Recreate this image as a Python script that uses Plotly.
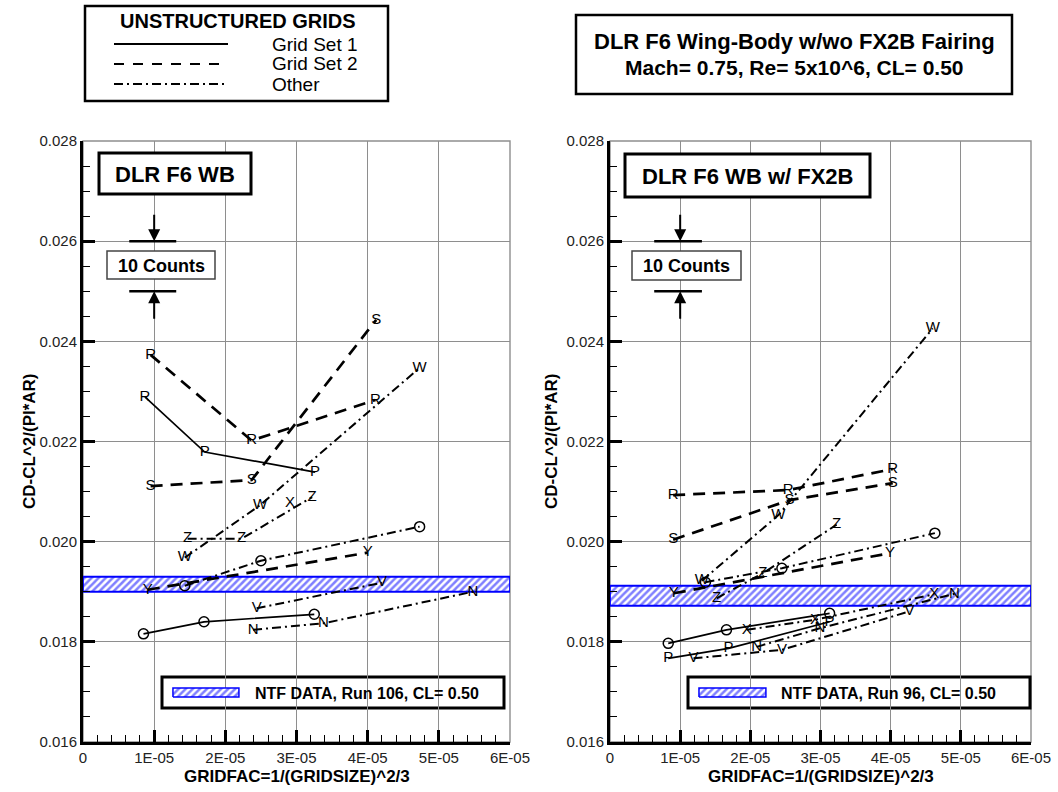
import plotly.graph_objects as go

# ------------------------------------------------------------------ data
X_TICKS = [0, 1e-5, 2e-5, 3e-5, 4e-5, 5e-5, 6e-5]
X_TICK_TEXT = ["0", "1E-05", "2E-05", "3E-05", "4E-05", "5E-05", "6E-05"]
Y_TICKS = [0.016, 0.018, 0.020, 0.022, 0.024, 0.026, 0.028]
Y_TICK_TEXT = ["0.016", "0.018", "0.020", "0.022", "0.024", "0.026", "0.028"]

# NTF experimental band (low, high)
NTF_WB = [0.01900, 0.01930]
NTF_FX = [0.01872, 0.01912]

# 10-count reference bars
COUNT_BARS = [0.025, 0.026]

# ---- Left panel: DLR F6 WB ----
WB_G1_A_X = [0.87e-5, 1.71e-5, 3.26e-5]
WB_G1_A_Y = [0.02289, 0.02179, 0.02139]
WB_G1_A_S = ["R", "P", "P"]

WB_G1_O_X = [0.85e-5, 1.70e-5, 3.25e-5]
WB_G1_O_Y = [0.01816, 0.01840, 0.01855]

WB_G2_R_X = [0.95e-5, 2.37e-5, 4.11e-5]
WB_G2_R_Y = [0.02373, 0.02202, 0.02283]

WB_G2_S_X = [0.95e-5, 2.37e-5, 4.12e-5]
WB_G2_S_Y = [0.02111, 0.02123, 0.02443]

WB_G2_Y_X = [0.91e-5, 4.00e-5]
WB_G2_Y_Y = [0.01904, 0.01978]

WB_OT_O_X = [1.43e-5, 2.50e-5, 4.73e-5]
WB_OT_O_Y = [0.01912, 0.01962, 0.02030]

WB_OT_W_X = [1.43e-5, 2.49e-5, 4.73e-5]
WB_OT_W_Y = [0.01968, 0.02073, 0.02347]

WB_OT_Z_X = [1.47e-5, 2.23e-5, 3.22e-5]
WB_OT_Z_Y = [0.02006, 0.02006, 0.02089]

WB_OT_X_X = [2.91e-5]
WB_OT_X_Y = [0.02077]

WB_OT_V_X = [2.44e-5, 4.20e-5]
WB_OT_V_Y = [0.01867, 0.01918]

WB_OT_N_X = [2.39e-5, 3.38e-5, 5.48e-5]
WB_OT_N_Y = [0.01824, 0.01837, 0.01900]

# ---- Right panel: DLR F6 WB w/ FX2B ----
FX_G1_O_X = [0.83e-5, 1.66e-5, 3.13e-5]
FX_G1_O_Y = [0.01797, 0.01824, 0.01857]

FX_G1_P_X = [0.83e-5, 1.69e-5, 3.13e-5]
FX_G1_P_Y = [0.01767, 0.01787, 0.01840]

FX_G2_R_X = [0.90e-5, 2.54e-5, 4.03e-5]
FX_G2_R_Y = [0.02093, 0.02103, 0.02145]

FX_G2_S_X = [0.90e-5, 2.56e-5, 4.03e-5]
FX_G2_S_Y = [0.02004, 0.02083, 0.02117]

FX_G2_Y_X = [0.91e-5, 3.99e-5]
FX_G2_Y_Y = [0.01897, 0.01977]

FX_OT_W_X = [1.31e-5, 2.40e-5, 4.60e-5]
FX_OT_W_Y = [0.01922, 0.02053, 0.02426]

FX_OT_Z_X = [1.52e-5, 2.18e-5, 3.23e-5]
FX_OT_Z_Y = [0.01887, 0.01937, 0.02034]

FX_OT_O_X = [1.36e-5, 2.45e-5, 4.63e-5]
FX_OT_O_Y = [0.01919, 0.01947, 0.02017]

FX_OT_X_X = [1.95e-5, 2.92e-5, 4.62e-5]
FX_OT_X_Y = [0.01824, 0.01844, 0.01895]

FX_OT_V_X = [1.19e-5, 2.45e-5, 4.27e-5]
FX_OT_V_Y = [0.01767, 0.01784, 0.01861]

FX_OT_N_X = [2.09e-5, 2.99e-5, 4.91e-5]
FX_OT_N_Y = [0.01790, 0.01827, 0.01896]

# ------------------------------------------------------------------ style
FONT = "Liberation Sans, Arial, Helvetica, sans-serif"
STYLES = {
    "g1": dict(color="black", width=1.7, dash="solid"),
    "g2": dict(color="black", width=2.7, dash="12px,8px"),
    "ot": dict(color="black", width=2.0, dash="9px,4px,2px,4px"),
}
HATCH = dict(shape="/", fgcolor="#0000ff", bgcolor="white", size=5,
             solidity=0.5)

W, H = 1058, 792


def px(x):
    return x / W


def py(y):
    return 1 - y / H


fig = go.Figure()

# hatched NTF bands (drawn first, under the CFD lines)
for band, xa, ya in [(NTF_WB, "x", "y"), (NTF_FX, "x2", "y2")]:
    fig.add_trace(go.Scatter(
        x=[X_TICKS[0], X_TICKS[-1], X_TICKS[-1], X_TICKS[0], X_TICKS[0]],
        y=[band[0], band[0], band[1], band[1], band[0]],
        mode="lines", fill="toself", fillcolor="white", fillpattern=HATCH,
        line=dict(color="#0000ff", width=1.8),
        xaxis=xa, yaxis=ya, hoverinfo="skip", showlegend=False))

SERIES = [
    ("x", "y", WB_G1_A_X, WB_G1_A_Y, WB_G1_A_S, "g1"),
    ("x", "y", WB_G1_O_X, WB_G1_O_Y, "O", "g1"),
    ("x", "y", WB_G2_R_X, WB_G2_R_Y, "R", "g2"),
    ("x", "y", WB_G2_S_X, WB_G2_S_Y, "S", "g2"),
    ("x", "y", WB_G2_Y_X, WB_G2_Y_Y, "Y", "g2"),
    ("x", "y", WB_OT_O_X, WB_OT_O_Y, "O", "ot"),
    ("x", "y", WB_OT_W_X, WB_OT_W_Y, "W", "ot"),
    ("x", "y", WB_OT_Z_X, WB_OT_Z_Y, "Z", "ot"),
    ("x", "y", WB_OT_X_X, WB_OT_X_Y, "X", "ot"),
    ("x", "y", WB_OT_V_X, WB_OT_V_Y, "V", "ot"),
    ("x", "y", WB_OT_N_X, WB_OT_N_Y, "N", "ot"),
    ("x2", "y2", FX_G1_O_X, FX_G1_O_Y, "O", "g1"),
    ("x2", "y2", FX_G1_P_X, FX_G1_P_Y, "P", "g1"),
    ("x2", "y2", FX_G2_R_X, FX_G2_R_Y, "R", "g2"),
    ("x2", "y2", FX_G2_S_X, FX_G2_S_Y, "S", "g2"),
    ("x2", "y2", FX_G2_Y_X, FX_G2_Y_Y, "Y", "g2"),
    ("x2", "y2", FX_OT_W_X, FX_OT_W_Y, "W", "ot"),
    ("x2", "y2", FX_OT_Z_X, FX_OT_Z_Y, "Z", "ot"),
    ("x2", "y2", FX_OT_O_X, FX_OT_O_Y, "O", "ot"),
    ("x2", "y2", FX_OT_X_X, FX_OT_X_Y, "X", "ot"),
    ("x2", "y2", FX_OT_V_X, FX_OT_V_Y, "V", "ot"),
    ("x2", "y2", FX_OT_N_X, FX_OT_N_Y, "N", "ot"),
]

for xa, ya, xs, ys, sym, sty in SERIES:
    if sym == "O":
        fig.add_trace(go.Scatter(
            x=xs, y=ys, mode="lines+markers", line=STYLES[sty],
            marker=dict(symbol="circle-open", size=10, color="black",
                        line=dict(width=1.5, color="black")),
            xaxis=xa, yaxis=ya, showlegend=False, hoverinfo="skip"))
    else:
        labels = sym if isinstance(sym, list) else [sym] * len(xs)
        fig.add_trace(go.Scatter(
            x=xs, y=ys, mode="lines+text", text=labels,
            textposition="middle center",
            textfont=dict(family=FONT, size=15, color="black"),
            line=STYLES[sty],
            xaxis=xa, yaxis=ya, showlegend=False, hoverinfo="skip"))

# NTF legend swatches inside the NTF boxes
SWATCH = [(1.264e-5, 2.191e-5, "x", "y"), (1.268e-5, 2.222e-5, "x2", "y2")]
for x0, x1, xa, ya in SWATCH:
    fig.add_trace(go.Scatter(
        x=[x0, x1, x1, x0, x0],
        y=[0.01690, 0.01690, 0.01708, 0.01708, 0.01690],
        mode="lines", fill="toself", fillcolor="white", fillpattern=HATCH,
        line=dict(color="#0000ff", width=1.5),
        xaxis=xa, yaxis=ya, hoverinfo="skip", showlegend=False))

# ------------------------------------------------------------------ axes
XD1 = [px(83), px(510)]
XD2 = [px(610), px(1031)]
YD = [py(742), py(141)]

common_x = dict(range=[X_TICKS[0], X_TICKS[-1]], tickvals=X_TICKS,
                ticktext=X_TICK_TEXT, ticks="inside", ticklen=12, tickwidth=2.5,
                tickcolor="black", showline=True, linecolor="black",
                linewidth=3, mirror=False, showgrid=True, gridcolor="#8e8e8e",
                gridwidth=1.4, zeroline=False, automargin=False,
                tickfont=dict(family=FONT, size=15, color="#222"),
                minor=dict(ticks="inside", ticklen=7, tickwidth=1,
                           tickcolor="black", dtick=0.2e-5, showgrid=False))
common_y = dict(range=[Y_TICKS[0], Y_TICKS[-1]], tickvals=Y_TICKS,
                ticktext=Y_TICK_TEXT, ticks="inside", ticklen=12, tickwidth=2.5,
                tickcolor="black", showline=True, linecolor="black",
                linewidth=3, mirror=False, showgrid=True, gridcolor="#8e8e8e",
                gridwidth=1.4, zeroline=False, automargin=False,
                tickfont=dict(family=FONT, size=15, color="#222"),
                minor=dict(ticks="inside", ticklen=7, tickwidth=1,
                           tickcolor="black", dtick=0.0005, showgrid=False))

fig.update_layout(
    width=W, height=H,
    margin=dict(l=0, r=0, t=0, b=0, pad=0, autoexpand=False),
    paper_bgcolor="white", plot_bgcolor="white",
    xaxis=dict(domain=XD1, anchor="y", **common_x),
    yaxis=dict(domain=YD, anchor="x", **common_y),
    xaxis2=dict(domain=XD2, anchor="y2", **common_x),
    yaxis2=dict(domain=YD, anchor="x2", **common_y),
    font=dict(family=FONT, color="black"),
)

shapes = []
anns = []

# gray frame on top/right of each plot
for xr, yr in [("x domain", "y domain"), ("x2 domain", "y2 domain")]:
    shapes.append(dict(type="rect", xref=xr, yref=yr, x0=0, x1=1, y0=0, y1=1,
                       line=dict(color="#8e8e8e", width=1.4), layer="below"))


def box(x0, y0, x1, y1, w=2.5, color="black", fill="white", layer="above"):
    shapes.append(dict(type="rect", xref="paper", yref="paper",
                       x0=px(x0), x1=px(x1), y0=py(y1), y1=py(y0),
                       line=dict(color=color, width=w), fillcolor=fill,
                       layer=layer))


def text(x, y, s, size, bold=True, xanchor="center"):
    anns.append(dict(xref="paper", yref="paper", x=px(x), y=py(y), text=s,
                     showarrow=False, xanchor=xanchor, yanchor="middle",
                     font=dict(family=FONT, size=size, color="black",
                               weight="bold" if bold else "normal")))


# top-left legend
box(85, 6, 388, 101, w=2.5)
text(238, 21, "UNSTRUCTURED GRIDS", 20)
for yy, sty in [(44, "g1"), (64, "g2"), (84, "ot")]:
    st = dict(STYLES[sty])
    st["width"] = 2
    if sty == "g2":
        st["dash"] = "10px,9px"
    shapes.append(dict(type="line", xref="paper", yref="paper",
                       x0=px(114), x1=px(228), y0=py(yy), y1=py(yy), line=st))
text(270, 45, "Grid Set 1", 19, bold=False, xanchor="left")
text(270, 64, "Grid Set 2", 19, bold=False, xanchor="left")
text(270, 84, "Other", 19, bold=False, xanchor="left")

# top-right title box
box(576, 15, 1012, 94, w=2.5)
text(794, 41, "DLR F6 Wing-Body w/wo FX2B Fairing", 22)
text(794, 67.5, "Mach= 0.75, Re= 5x10^6, CL= 0.50", 21)

# panel title boxes
box(99, 153, 251, 194, w=3)
text(175, 174, "DLR F6 WB", 22)
box(625, 154, 870, 197, w=3)
text(747.5, 176, "DLR F6 WB w/ FX2B", 22)

# 10 counts boxes
box(107, 251, 215, 279, w=1.5, color="#444")
text(161, 265.5, "10 Counts", 18)
box(632, 251, 741, 280, w=1.5, color="#444")
text(686.5, 266, "10 Counts", 18)

# NTF legend boxes
box(162, 677, 504, 708, w=3, layer="between")
text(253, 693, "NTF DATA, Run 106, CL= 0.50", 16, xanchor="left")
box(688, 677, 1030, 708, w=3, layer="between")
text(779, 693, "NTF DATA, Run 96, CL= 0.50", 16, xanchor="left")

# 10 count bars + arrows
for xa, ya, x0, x1 in [("x", "y", 0.65e-5, 1.31e-5), ("x2", "y2", 0.63e-5, 1.31e-5)]:
    for yb in COUNT_BARS:
        shapes.append(dict(type="line", xref=xa, yref=ya, x0=x0, x1=x1,
                           y0=yb, y1=yb, line=dict(color="black", width=2.5)))
    anns.append(dict(xref=xa, yref=ya, x=X_TICKS[1], y=COUNT_BARS[1], ax=0,
                     ay=-28, showarrow=True, arrowhead=2, arrowsize=1.2,
                     arrowwidth=2, arrowcolor="black", text=""))
    anns.append(dict(xref=xa, yref=ya, x=X_TICKS[1], y=COUNT_BARS[0], ax=0,
                     ay=29, showarrow=True, arrowhead=2, arrowsize=1.2,
                     arrowwidth=2, arrowcolor="black", text=""))

# axis titles
for xc, xt in [(296.5, 30), (820.5, 552)]:
    text(xc, 776, "GRIDFAC=1/(GRIDSIZE)^2/3", 17)
    anns.append(dict(xref="paper", yref="paper", x=px(xt), y=py(441),
                     text="CD-CL^2/(PI*AR)", showarrow=False, textangle=-90,
                     xanchor="center", yanchor="middle",
                     font=dict(family=FONT, size=17, color="black",
                               weight="bold")))

fig.update_layout(shapes=shapes, annotations=anns)
fig.write_html(
    "out.html",
    config={"displayModeBar": False},
    post_script="document.body.style.margin='0px';"
                "document.body.style.overflow='hidden';")
